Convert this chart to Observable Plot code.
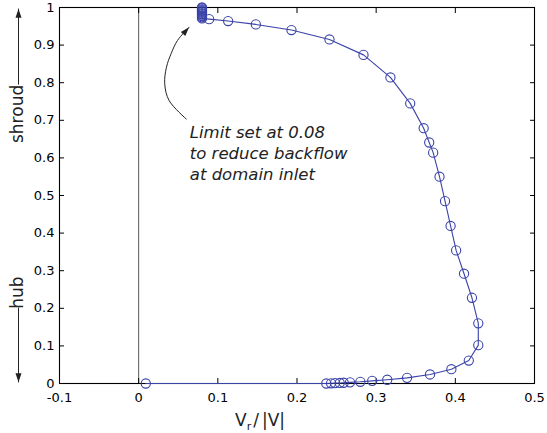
<!DOCTYPE html>
<html>
<head>
<meta charset="utf-8">
<script src="https://cdn.jsdelivr.net/npm/d3@7"></script>
<script src="https://cdn.jsdelivr.net/npm/@observablehq/plot@0.6"></script>
<style>
  html, body { margin: 0; padding: 0; background: white; }
  #chart svg { display: block; }
</style>
</head>
<body>
<div id="chart"></div>
<script>
// ---- data ----
const vr = [0.009, 0.237, 0.243, 0.248, 0.254, 0.259, 0.267, 0.280, 0.295, 0.314,
            0.339, 0.368, 0.395, 0.417, 0.429, 0.429, 0.421, 0.411, 0.401, 0.394,
            0.387, 0.380, 0.372, 0.367, 0.360, 0.343, 0.318, 0.284, 0.241, 0.193,
            0.148, 0.113, 0.089, 0.080, 0.080, 0.080, 0.080, 0.080, 0.080, 0.080,
            0.080, 0.080, 0.080, 0.080, 0.080, 0.080];
const span = [0, 0, 0.0005, 0.001, 0.0015, 0.002, 0.003, 0.0045, 0.007, 0.010,
              0.015, 0.024, 0.038, 0.061, 0.102, 0.160, 0.228, 0.292, 0.354, 0.419,
              0.485, 0.550, 0.614, 0.641, 0.679, 0.745, 0.814, 0.874, 0.915, 0.940,
              0.955, 0.964, 0.969, 0.971, 0.974, 0.977, 0.979, 0.982, 0.984, 0.987,
              0.989, 0.991, 0.993, 0.995, 0.998, 1.000];
const xTicks = [-0.1, 0, 0.1, 0.2, 0.3, 0.4, 0.5];
const xTickLabels = ["-0.1", "0", "0.1", "0.2", "0.3", "0.4", "0.5"];
const yTicks = [0, 0.1, 0.2, 0.3, 0.4, 0.5, 0.6, 0.7, 0.8, 0.9, 1];
const yTickLabels = ["0", "0.1", "0.2", "0.3", "0.4", "0.5", "0.6", "0.7", "0.8", "0.9", "1"];
const annotationText = "Limit set at 0.08\nto reduce backflow\nat domain inlet";
const annotationPos = {x: 0.0646, y: 0.615};
const annotationCurve = [
  {x: 0.0601, y: 0.7035}, {x: 0.0384, y: 0.7527}, {x: 0.0329, y: 0.7971},
  {x: 0.0351, y: 0.8412}, {x: 0.0411, y: 0.8777}, {x: 0.0490, y: 0.9122},
  {x: 0.0637, y: 0.9476}
];
const sideLabels = [{text: "shroud", y: 0.717}, {text: "hub", y: 0.242}];
const sideArrows = [{y1: 0.795, y2: 0.997, rot: 0}, {y1: 0.202, y2: 0.003, rot: 180}];

const profile = vr.map((v, i) => ({vr: v, span: span[i]}));
const blue = "#3a43a8";

// narrow filled arrow head, tip at origin, pointing up
const arrowHead = {
  draw(ctx) {
    ctx.moveTo(0, 0);
    ctx.lineTo(-3, 9);
    ctx.lineTo(3, 9);
    ctx.closePath();
  }
};

const W = 547, H = 433, mL = 59, mR = 13, mT = 7, mB = 50;
const AX = -0.1; // left frame position in data units
const sideDx = -41;

const chart = Plot.plot({
  width: W, height: H,
  marginLeft: mL, marginRight: mR, marginTop: mT, marginBottom: mB,
  x: {domain: [-0.1, 0.5]},
  y: {domain: [0, 1]},
  style: {fontFamily: "DejaVu Sans", fontSize: "13px", color: "black", background: "white"},
  marks: [
    Plot.ruleX([0], {stroke: "#444", strokeWidth: 0.9}),
    Plot.frame({stroke: "black", strokeWidth: 1.1}),
    Plot.axisX({anchor: "bottom", ticks: xTicks, tickSize: -5, tickPadding: 14,
      tickFormat: (d, i) => xTickLabels[i], label: null}),
    Plot.axisX({anchor: "top", ticks: xTicks, tickSize: -5, tickFormat: () => "", label: null}),
    Plot.axisY({anchor: "left", ticks: yTicks, tickSize: -5, tickPadding: 10,
      tickFormat: (d, i) => yTickLabels[i], label: null}),
    Plot.axisY({anchor: "right", ticks: yTicks, tickSize: -5, tickFormat: () => "", label: null}),
    // data
    Plot.line(profile, {x: "vr", y: "span", stroke: blue, strokeWidth: 1.1}),
    Plot.dot(profile, {x: "vr", y: "span", r: 4.6, stroke: blue, strokeWidth: 1.1, fill: "none"}),
    // annotation
    Plot.text([annotationText], {x: () => annotationPos.x, y: () => annotationPos.y,
      text: d => d, textAnchor: "start", fontStyle: "italic", fontSize: 16.5, lineHeight: 1.273,
      fill: "#222"}),
    Plot.line(annotationCurve, {x: "x", y: "y", curve: "catmull-rom", stroke: "#222", strokeWidth: 1}),
    Plot.dot([annotationCurve[annotationCurve.length - 1]], {x: "x", y: "y", symbol: arrowHead,
      fill: "#222", stroke: "none", rotate: 42}),
    // side labels with arrows
    Plot.text(sideLabels, {x: () => AX, y: "y", text: "text", dx: -42, rotate: -90,
      fontSize: 17, fill: "#222"}),
    Plot.link(sideArrows, {x1: () => AX, x2: () => AX, y1: "y1", y2: "y2", dx: sideDx,
      stroke: "#222", strokeWidth: 1}),
    Plot.dot(sideArrows, {x: () => AX, y: "y2", dx: sideDx, symbol: arrowHead, rotate: "rot",
      fill: "#222", stroke: "none"})
  ]
});

// x-axis label with subscript
const svg = d3.select(chart);
const lab = svg.append("text")
  .attr("x", 260).attr("y", 426)
  .attr("font-family", "DejaVu Sans").attr("font-size", 17).attr("fill", "#222");
lab.append("tspan").text("V");
lab.append("tspan").attr("font-size", 11).attr("dy", 4).text("r");
lab.append("tspan").attr("dx", 2).attr("dy", -4).text("/");
lab.append("tspan").attr("dx", 3).text("|V|");

document.getElementById("chart").appendChild(chart);
</script>
</body>
</html>
